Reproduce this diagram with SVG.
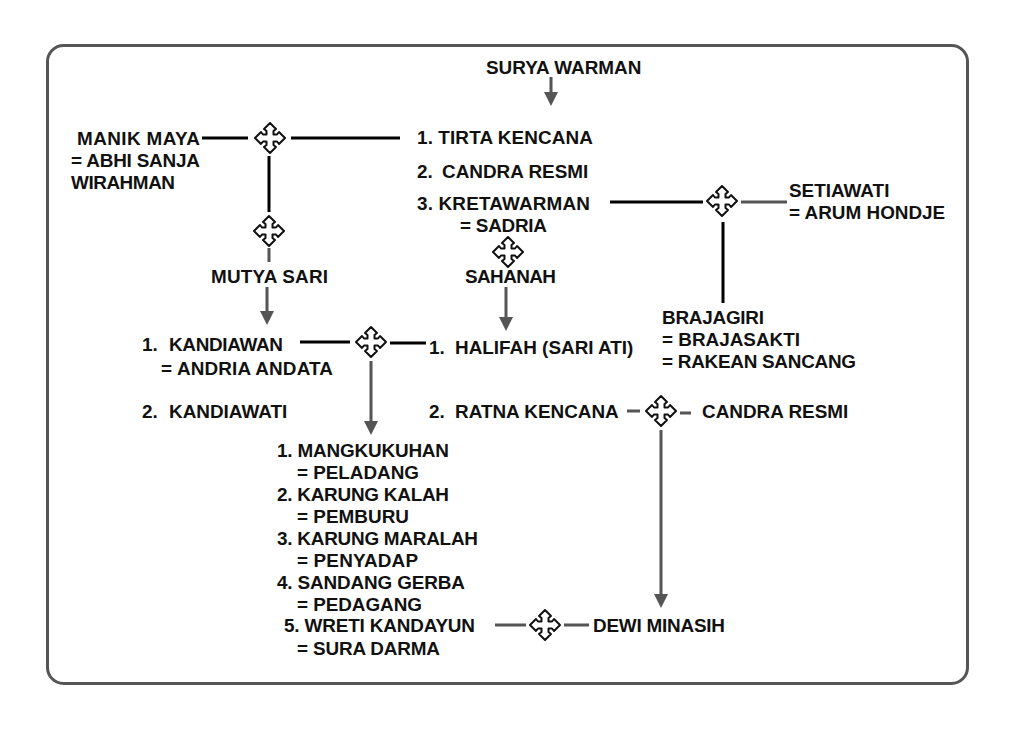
<svg xmlns="http://www.w3.org/2000/svg" width="1019" height="730" viewBox="0 0 1019 730">
<style>
text{font-family:"Liberation Sans",Arial,sans-serif;font-weight:700;font-size:18.9px;fill:#111}
.k{stroke:#000;stroke-width:3;fill:none}
.g{stroke:#555;stroke-width:3;fill:none}
.h{fill:#555}
.c{fill:#fff;stroke:#111;stroke-width:2;stroke-linejoin:round}
</style>
<defs>
<path id="x" class="c" d="M0,-15L6,-9L3.500,-7V-3.500H7L9,-6L15,0L9,6L7,3.500H3.500V7L6,9L0,15L-6,9L-3.500,7V3.500H-7L-9,6L-15,0L-9,-6L-7,-3.500H-3.500V-7L-6,-9Z"/>
<path id="a" class="h" d="M-7,-14H7L0,0Z"/>
</defs>
<rect x="47.500" y="45.500" width="920" height="638" rx="16" fill="#fff" stroke="#555" stroke-width="3"/>
<g id="connectors">
<path class="k" d="M202,138H248M291,138H400M269,156V212"/>
<path class="k" d="M610,202H703M723,222V303M300,342H350M390,343H426"/>
<path class="g" d="M741,202H787M269,248V262M267,287V312M551,77V93M506,287V318M371,361V422M627,411H640M680,413H691M661,430V594M495,625H526M564,625H589"/>
<use href="#a" x="551" y="106"/><use href="#a" x="267" y="325"/><use href="#a" x="506" y="331"/><use href="#a" x="371" y="435"/><use href="#a" x="661" y="608"/>
</g>
<g id="n1"><use href="#x" x="270" y="138"/></g>
<g id="n2"><use href="#x" x="269" y="231"/></g>
<g id="n3"><use href="#x" x="722" y="201"/></g>
<g id="n4"><use href="#x" x="508" y="252"/></g>
<g id="n5"><use href="#x" x="371" y="342"/></g>
<g id="n6"><use href="#x" x="661" y="411"/></g>
<g id="n7"><use href="#x" x="545" y="625"/></g>
<g id="labels">
<text x="486" y="74">SURYA WARMAN</text>
<text x="77" y="145" textLength="123">MANIK MAYA</text>
<text x="71" y="167" textLength="129">= ABHI SANJA</text>
<text x="71" y="189" textLength="104">WIRAHMAN</text>
<text x="417" y="144" textLength="176">1. TIRTA KENCANA</text>
<text x="417" y="178">2.</text><text x="442" y="178">CANDRA RESMI</text>
<text x="417" y="210" textLength="173">3. KRETAWARMAN</text>
<text x="460" y="232" textLength="87">= SADRIA</text>
<text x="465" y="283" textLength="91">SAHANAH</text>
<text x="211" y="283" textLength="117">MUTYA SARI</text>
<text x="789" y="197">SETIAWATI</text>
<text x="789" y="219">= ARUM HONDJE</text>
<text x="662" y="324" textLength="102">BRAJAGIRI</text>
<text x="662" y="346">= BRAJASAKTI</text>
<text x="662" y="368" textLength="194">= RAKEAN SANCANG</text>
<text x="142" y="351">1.</text><text x="169" y="351" textLength="114">KANDIAWAN</text>
<text x="161" y="375" textLength="172">= ANDRIA ANDATA</text>
<text x="142" y="418">2.</text><text x="169" y="418">KANDIAWATI</text>
<text x="429" y="354">1.</text><text x="455" y="354">HALIFAH (SARI ATI)</text>
<text x="429" y="418">2.</text><text x="455" y="418">RATNA KENCANA</text>
<text x="702" y="418">CANDRA RESMI</text>
<text x="277" y="457" textLength="172">1. MANGKUKUHAN</text>
<text x="297" y="479" textLength="122">= PELADANG</text>
<text x="277" y="501" textLength="172">2. KARUNG KALAH</text>
<text x="297" y="523" textLength="112">= PEMBURU</text>
<text x="277" y="545" textLength="201">3. KARUNG MARALAH</text>
<text x="297" y="567" textLength="121">= PENYADAP</text>
<text x="277" y="589" textLength="188">4. SANDANG GERBA</text>
<text x="297" y="611" textLength="125">= PEDAGANG</text>
<text x="284" y="632" textLength="191">5. WRETI KANDAYUN</text>
<text x="297" y="655" textLength="143">= SURA DARMA</text>
<text x="593" y="632" textLength="132">DEWI MINASIH</text>
</g>
</svg>
